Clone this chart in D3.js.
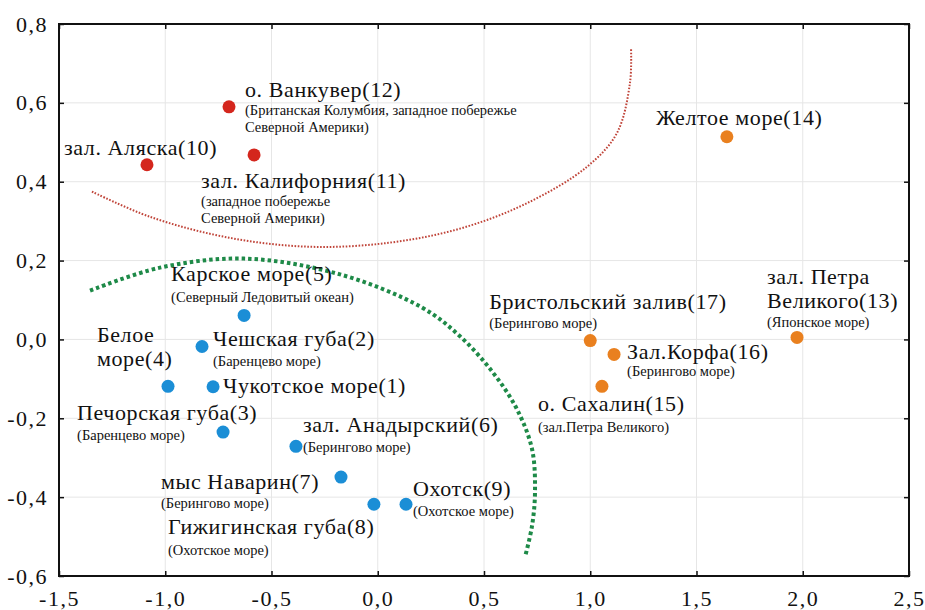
<!DOCTYPE html>
<html>
<head>
<meta charset="utf-8">
<script src="https://cdn.jsdelivr.net/npm/d3@7"></script>
<style>
  body { margin: 0; background: #fff; }
  svg text { font-family: 'Liberation Serif', 'DejaVu Serif', 'Times New Roman', Times, serif; fill: #111; }
</style>
</head>
<body>
<svg id="chart" width="925" height="610"></svg>
<script>
// point data (x, y)
const siteIds = [1, 2, 3, 4, 5, 6, 7, 8, 9, 10, 11, 12, 13, 14, 15, 16, 17];
const xValues = [-0.775, -0.827, -0.728, -0.987, -0.629, -0.385, -0.173, -0.018, 0.133,
                 -1.086, -0.582, -0.700, 1.973, 1.643, 1.055, 1.112, 1.000];
const yValues = [-0.120, -0.018, -0.235, -0.119, 0.061, -0.271, -0.349, -0.418, -0.418,
                 0.443, 0.468, 0.590, 0.005, 0.514, -0.119, -0.038, -0.003];
const groups = ["blue", "blue", "blue", "blue", "blue", "blue", "blue", "blue", "blue",
                "red", "red", "red", "orange", "orange", "orange", "orange", "orange"];

// labels: main lines and smaller lines
const mainLines = [
  ["Чукотское море(1)"],
  ["Чешская губа(2)"],
  ["Печорская губа(3)"],
  ["Белое", "море(4)"],
  ["Карское море(5)"],
  ["зал. Анадырский(6)"],
  ["мыс Наварин(7)"],
  ["Гижигинская губа(8)"],
  ["Охотск(9)"],
  ["зал. Аляска(10)"],
  ["зал. Калифорния(11)"],
  ["о. Ванкувер(12)"],
  ["зал. Петра", "Великого(13)"],
  ["Желтое море(14)"],
  ["о. Сахалин(15)"],
  ["Зал.Корфа(16)"],
  ["Бристольский залив(17)"]
];
const subLines = [
  [],
  ["(Баренцево море)"],
  ["(Баренцево море)"],
  [],
  ["(Северный Ледовитый океан)"],
  ["(Берингово море)"],
  ["(Берингово море)"],
  ["(Охотское море)"],
  ["(Охотское море)"],
  [],
  ["(западное побережье", "Северной Америки)"],
  ["(Британская Колумбия, западное побережье", "Северной Америки)"],
  ["(Японское море)"],
  [],
  ["(зал.Петра Великого)"],
  ["(Берингово море)"],
  ["(Берингово море)"]
];

// dotted boundary curves (data coordinates)
const redCurveX = [-1.345, -1.072, -0.70, -0.319, 0.05, 0.387, 0.70, 0.985, 1.126, 1.187, 1.192];
const redCurveY = [0.375, 0.311, 0.258, 0.235, 0.245, 0.281, 0.345, 0.438, 0.524, 0.651, 0.737];
const greenCurveX = [-1.354, -1.025, -0.629, -0.178, 0.208, 0.387, 0.542, 0.655, 0.726, 0.740, 0.726, 0.693];
const greenCurveY = [0.124, 0.182, 0.205, 0.165, 0.081, 0.008, -0.084, -0.177, -0.278, -0.387, -0.473, -0.552];

const xTicks = [-1.5, -1.0, -0.5, 0.0, 0.5, 1.0, 1.5, 2.0, 2.5];
const yTicks = [-0.6, -0.4, -0.2, 0.0, 0.2, 0.4, 0.6, 0.8];

// label placement (pixel offsets from each point) - main line, then sub lines
const labelDx = [10, 11, -146, -71, -73, 7, -180, -206, 7, -83, -53, 16, -30, -71, -64, 13, -101];
const labelDy = [6, -1, -12, -44, -34, -14, 12, 30, -8, -10, 33, -10, -53, -12, 25, 5, -32];
const subDy   = [0, 19, 8, 0, -13, 6, 31, 51, 12, 0, 51, 8, -10, 0, 46, 22, -13];

const colors = { blue: "#1b8ed6", red: "#d4261d", orange: "#e9801f" };

const svg = d3.select("#chart");
const margin = { left: 59, top: 24, right: 16, bottom: 34 };
const width = 925, height = 610;

const x = d3.scaleLinear().domain([-1.5, 2.5]).range([margin.left, width - margin.right]);
const y = d3.scaleLinear().domain([-0.6, 0.8]).range([height - margin.bottom, margin.top]);

const locale = d3.formatLocale({ decimal: ",", thousands: " ", grouping: [3], currency: ["", ""], minus: "-" });
const fmt = locale.format(".1f");

// grid
const grid = svg.append("g");
grid.selectAll(".gx").data(xTicks.slice(1, -1)).join("line")
  .attr("x1", d => x(d)).attr("x2", d => x(d))
  .attr("y1", y(0.8)).attr("y2", y(-0.6))
  .attr("stroke", "#e6e6e6").attr("stroke-width", 1);
grid.selectAll(".gy").data(yTicks.slice(1, -1)).join("line")
  .attr("y1", d => y(d)).attr("y2", d => y(d))
  .attr("x1", x(-1.5)).attr("x2", x(2.5))
  .attr("stroke", "#e6e6e6").attr("stroke-width", 1);

// axes with inward ticks
const axisStyle = g => {
  g.attr("font-family", null);
  g.select(".domain").remove();
  g.selectAll("text").style("font-size", "22px").style("letter-spacing", "1.5px").attr("fill", "#111");
  g.selectAll(".tick line").attr("stroke", "#111").attr("stroke-width", 1.5);
};
svg.append("g").attr("transform", `translate(0,${y(-0.6)})`)
  .call(d3.axisBottom(x).tickValues(xTicks).tickFormat(fmt).tickSizeInner(-5).tickSizeOuter(0).tickPadding(14))
  .call(axisStyle);
svg.append("g").attr("transform", `translate(${x(-1.5)},0)`)
  .call(d3.axisLeft(y).tickValues(yTicks).tickFormat(fmt).tickSizeInner(-5).tickSizeOuter(0).tickPadding(11))
  .call(axisStyle);
svg.append("g").attr("transform", `translate(0,${y(0.8)})`)
  .call(d3.axisTop(x).tickValues(xTicks).tickFormat("").tickSizeInner(-5).tickSizeOuter(0))
  .call(axisStyle);
svg.append("g").attr("transform", `translate(${x(2.5)},0)`)
  .call(d3.axisRight(y).tickValues(yTicks).tickFormat("").tickSizeInner(-5).tickSizeOuter(0))
  .call(axisStyle);

// frame
svg.append("rect")
  .attr("x", x(-1.5)).attr("y", y(0.8))
  .attr("width", x(2.5) - x(-1.5)).attr("height", y(-0.6) - y(0.8))
  .attr("fill", "none").attr("stroke", "#111").attr("stroke-width", 2);

// curves
const line = d3.line().x(d => x(d[0])).y(d => y(d[1])).curve(d3.curveCatmullRom);
svg.append("path")
  .datum(d3.zip(redCurveX, redCurveY))
  .attr("d", line)
  .attr("fill", "none").attr("stroke", "#c0453a").attr("stroke-width", 2)
  .attr("stroke-dasharray", "1.6,1.6");
svg.append("path")
  .datum(d3.zip(greenCurveX, greenCurveY))
  .attr("d", line)
  .attr("fill", "none").attr("stroke", "#1e8a48").attr("stroke-width", 4)
  .attr("stroke-dasharray", "3.5,3");

// points
const pts = siteIds.map((id, i) => ({ id, x: xValues[i], y: yValues[i], g: groups[i], i }));
svg.append("g").selectAll("circle").data(pts).join("circle")
  .attr("cx", d => x(d.x)).attr("cy", d => y(d.y)).attr("r", 6.5)
  .attr("fill", d => colors[d.g]);

// labels
const lab = svg.append("g");
pts.forEach(d => {
  const px = x(d.x), py = y(d.y);
  mainLines[d.i].forEach((t, k) => {
    lab.append("text")
      .attr("x", px + labelDx[d.i]).attr("y", py + labelDy[d.i] + k * 24)
      .style("font-size", "22px").style("letter-spacing", "0.6px").text(t);
  });
  subLines[d.i].forEach((t, k) => {
    lab.append("text")
      .attr("x", px + labelDx[d.i]).attr("y", py + subDy[d.i] + k * 17)
      .style("font-size", "14.5px").text(t);
  });
});
</script>
</body>
</html>
